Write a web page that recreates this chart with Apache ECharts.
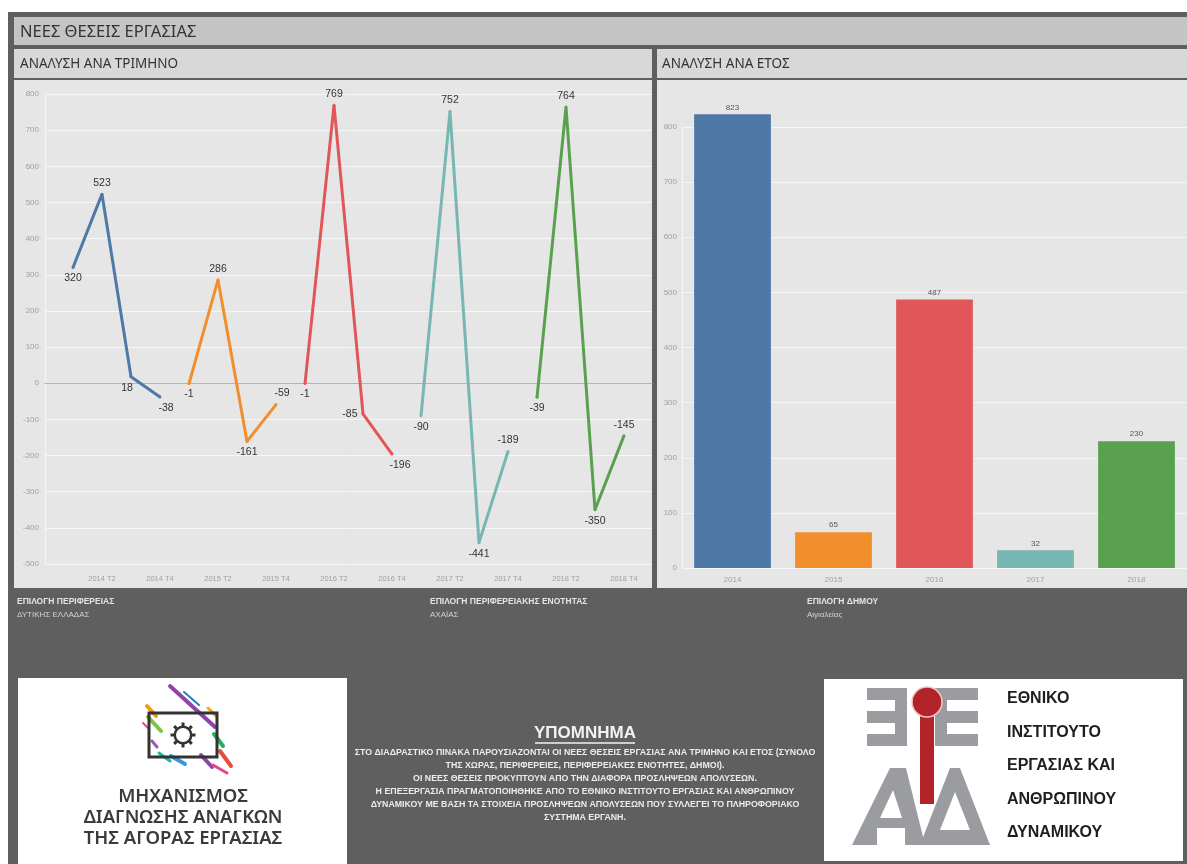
<!DOCTYPE html>
<html><head><meta charset="utf-8">
<script src="https://cdn.jsdelivr.net/npm/echarts@6/dist/echarts.min.js"></script>
<style>html,body{margin:0;padding:0;background:#fff;}#c{width:1187px;height:864px;}</style>
</head><body><div id="c"></div>
<script>
// ---- data ----
const quarters = ['2014 T1','2014 T2','2014 T3','2014 T4','2015 T1','2015 T2','2015 T3','2015 T4',
  '2016 T1','2016 T2','2016 T3','2016 T4','2017 T1','2017 T2','2017 T3','2017 T4',
  '2018 T1','2018 T2','2018 T3','2018 T4'];
const years = ['2014','2015','2016','2017','2018'];
const q2014 = [320, 523, 18, -38];
const q2015 = [-1, 286, -161, -59];
const q2016 = [-1, 769, -85, -196];
const q2017 = [-90, 752, -441, -189];
const q2018 = [-39, 764, -350, -145];
const annual = [823, 65, 487, 32, 230];
const lineAxis = {min: -500, max: 800, interval: 100};
const barAxis = {min: 0, max: 800, interval: 100};

// ---- style ----
const colors = ['#4e79a7', '#f28e2b', '#e15759', '#76b7b2', '#59a14f'];
const labelPlace = [
  ['bottom',0,0],['top',0,0],['bottom',-4,0],['bottom',6,0],
  ['bottom',0,0],['top',0,0],['bottom',0,0],['top',6,0],
  ['bottom',0,0],['top',0,0],['left',0,0],['bottom',8,0],
  ['bottom',0,0],['top',0,0],['bottom',0,0],['top',0,0],
  ['bottom',0,0],['top',0,0],['bottom',0,0],['top',0,0]];
const FF = '"Liberation Sans", Arial, sans-serif';
const NS = '"Noto Sans", sans-serif';
const DARK = '#5f5f5f';

const chart = echarts.init(document.getElementById('c'), null, {width:1187, height:864});

const g = [];
function rect(x,y,w,h,fill,z){ g.push({type:'rect', z: z==null?-10:z, silent:true, shape:{x,y,width:w,height:h}, style:{fill}}); }
function txt(text,x,y,size,fill,opt){ opt=opt||{};
  g.push({type:'text', z: opt.z==null?5:opt.z, silent:true, style:{text, x, y, fill,
    font:(opt.weight||'normal')+' '+size+'px '+(opt.family||FF),
    align:opt.align||'left', textAlign:opt.align||'left',
    verticalAlign:'middle', textVerticalAlign:'middle'}}); }
function line(x1,y1,x2,y2,stroke,w,z,cap){ g.push({type:'line', z:z==null?5:z, silent:true, shape:{x1,y1,x2,y2}, style:{stroke, lineWidth:w, lineCap:cap||'butt'}}); }

// backgrounds
rect(8,12,1179,852,DARK,-20);
rect(14,17,1173,28,'#c4c4c4');
rect(14,49,638,29,'#d8d8d8');
rect(657,49,530,29,'#d8d8d8');
rect(14,80,638,508,'#e6e6e6');
rect(657,80,530,508,'#e6e6e6');
txt('ΝΕΕΣ ΘΕΣΕΙΣ ΕΡΓΑΣΙΑΣ',20,32,16.5,'#333',{family:NS});
txt('ΑΝΑΛΥΣΗ ΑΝΑ ΤΡΙΜΗΝΟ',20,64,13.5,'#333',{family:NS});
txt('ΑΝΑΛΥΣΗ ΑΝΑ ΕΤΟΣ',662,64,13.5,'#333',{family:NS});

// filter texts
txt('ΕΠΙΛΟΓΗ ΠΕΡΙΦΕΡΕΙΑΣ',17,602,8.5,'#e4e4e4',{weight:'bold'});
txt('ΔΥΤΙΚΗΣ ΕΛΛΑΔΑΣ',17,615,8,'#d4d4d4');
txt('ΕΠΙΛΟΓΗ ΠΕΡΙΦΕΡΕΙΑΚΗΣ ΕΝΟΤΗΤΑΣ',430,602,8.5,'#e4e4e4',{weight:'bold'});
txt('ΑΧΑΪΑΣ',430,615,8,'#d4d4d4');
txt('ΕΠΙΛΟΓΗ ΔΗΜΟΥ',807,602,8.5,'#e4e4e4',{weight:'bold'});
txt('Αιγιαλείας',807,615,8,'#d4d4d4');

// legend text
txt('ΥΠΟΜΝΗΜΑ',585,733,17,'#f2f2f2',{weight:'bold',align:'center'});
line(535,743,635,743,'#f2f2f2',1.5);
const legendLines = [
  'ΣΤΟ ΔΙΑΔΡΑΣΤΙΚΟ ΠΙΝΑΚΑ ΠΑΡΟΥΣΙΑΖΟΝΤΑΙ ΟΙ ΝΕΕΣ ΘΕΣΕΙΣ ΕΡΓΑΣΙΑΣ ΑΝΑ ΤΡΙΜΗΝΟ ΚΑΙ ΕΤΟΣ (ΣΥΝΟΛΟ',
  'ΤΗΣ ΧΩΡΑΣ, ΠΕΡΙΦΕΡΕΙΕΣ, ΠΕΡΙΦΕΡΕΙΑΚΕΣ ΕΝΟΤΗΤΕΣ, ΔΗΜΟΙ).',
  'ΟΙ ΝΕΕΣ ΘΕΣΕΙΣ ΠΡΟΚΥΠΤΟΥΝ ΑΠΟ ΤΗΝ ΔΙΑΦΟΡΑ ΠΡΟΣΛΗΨΕΩΝ ΑΠΟΛΥΣΕΩΝ.',
  'Η ΕΠΕΞΕΡΓΑΣΙΑ ΠΡΑΓΜΑΤΟΠΟΙΗΘΗΚΕ ΑΠΟ ΤΟ ΕΘΝΙΚΟ ΙΝΣΤΙΤΟΥΤΟ ΕΡΓΑΣΙΑΣ ΚΑΙ ΑΝΘΡΩΠΙΝΟΥ',
  'ΔΥΝΑΜΙΚΟΥ ΜΕ ΒΑΣΗ ΤΑ ΣΤΟΙΧΕΙΑ ΠΡΟΣΛΗΨΕΩΝ ΑΠΟΛΥΣΕΩΝ ΠΟΥ ΣΥΛΛΕΓΕΙ ΤΟ ΠΛΗΡΟΦΟΡΙΑΚΟ',
  'ΣΥΣΤΗΜΑ ΕΡΓΑΝΗ.'];
legendLines.forEach((s,i)=>txt(s,585,753+i*13,8.8,'#ececec',{weight:'bold',align:'center'}));

// left logo
rect(18,678,329,186,'#ffffff',-5);
const stripes = [
  [170,686,215,727,'#8e44ad',4],[147,706,156,716,'#f39c12',4],[148,717,161,731,'#7dc242',4],
  [152,741,157,747,'#9b59b6',3],[208,708,216,716,'#f5a623',3],[214,734,223,746,'#27ae60',4],
  [171,756,185,764,'#3498db',4],[159,753,170,761,'#1abc9c',3],[201,755,212,767,'#8e44ad',4],
  [220,751,231,766,'#e74c3c',4],[213,765,227,773,'#e84393',3],[184,692,199,705,'#2980b9',2],
  [143,723,149,729,'#e84393',2]];
stripes.forEach(s=>line(s[0],s[1],s[2],s[3],s[4],s[5],0,'round'));
g.push({type:'rect', z:1, silent:true, shape:{x:149,y:713,width:68,height:44}, style:{fill:'none', stroke:'#333', lineWidth:3}});
g.push({type:'ring', z:1, silent:true, shape:{cx:183,cy:735,r:9.5,r0:7}, style:{fill:'#333'}});
for(let k=0;k<8;k++){ const a=k*Math.PI/4; line(183+9*Math.cos(a),735+9*Math.sin(a),183+12.5*Math.cos(a),735+12.5*Math.sin(a),'#333',3,1); }
['ΜΗΧΑΝΙΣΜΟΣ','ΔΙΑΓΝΩΣΗΣ ΑΝΑΓΚΩΝ','ΤΗΣ ΑΓΟΡΑΣ ΕΡΓΑΣΙΑΣ'].forEach((s,i)=>
  txt(s,183,797+i*21,18.5,'#3a3a3a',{align:'center',family:NS,weight:'600'}));

// right logo
rect(824,679,359,182,'#ffffff',-5);
const GR = '#9a9ca0';
[[867,688],[867,711],[867,734]].forEach(p=>g.push({type:'rect',z:1,silent:true,shape:{x:p[0],y:p[1],width:40,height:12},style:{fill:GR}}));
g.push({type:'rect',z:1,silent:true,shape:{x:895,y:688,width:12,height:58},style:{fill:GR}});
[[935,688],[935,711],[935,734]].forEach(p=>g.push({type:'rect',z:1,silent:true,shape:{x:p[0],y:p[1],width:43,height:12},style:{fill:GR}}));
g.push({type:'rect',z:1,silent:true,shape:{x:935,y:688,width:12,height:58},style:{fill:GR}});
g.push({type:'polygon',z:1,silent:true,shape:{points:[[852,845],[890,768],[906,768],[925,845]]},style:{fill:GR}});
g.push({type:'polygon',z:2,silent:true,shape:{points:[[880,818],[893,790],[902,818]]},style:{fill:'#fff'}});
g.push({type:'rect',z:2,silent:true,shape:{x:877,y:828,width:28,height:17},style:{fill:'#fff'}});
g.push({type:'polygon',z:1,silent:true,shape:{points:[[920,845],[950,768],[960,768],[990,845]]},style:{fill:GR}});
g.push({type:'polygon',z:2,silent:true,shape:{points:[[940,830],[955,792],[970,830]]},style:{fill:'#fff'}});
g.push({type:'rect',z:3,silent:true,shape:{x:920,y:716,width:14,height:88},style:{fill:'#b2242a'}});
g.push({type:'circle',z:3,silent:true,shape:{cx:927,cy:702,r:15},style:{fill:'#b2242a',stroke:'#f2c4c4',lineWidth:1.5}});
['ΕΘΝΙΚΟ','ΙΝΣΤΙΤΟΥΤΟ','ΕΡΓΑΣΙΑΣ ΚΑΙ','ΑΝΘΡΩΠΙΝΟΥ','ΔΥΝΑΜΙΚΟΥ'].forEach((s,i)=>
  txt(s,1007,699+i*33.5,16,'#1e1e1e',{weight:'bold'}));

// ---- series ----
const quarterly = [q2014,q2015,q2016,q2017,q2018];
const series = quarterly.map((vals, yi) => ({
  type:'line', xAxisIndex:1, yAxisIndex:1, z:5,
  symbol:'circle', symbolSize:3, connectNulls:false,
  lineStyle:{width:3, color:colors[yi]}, itemStyle:{color:colors[yi]},
  label:{show:true, color:'#333', fontSize:10.5, fontFamily:FF, distance:4},
  emphasis:{disabled:true},
  data: quarters.map((q,j) => {
    if (Math.floor(j/4) !== yi) return '-';
    const p = labelPlace[j];
    return {value: vals[j%4], label:{position:p[0], offset:[p[1],p[2]]}};
  })
}));
series.push({
  type:'bar', xAxisIndex:2, yAxisIndex:2, barWidth:'76%', clip:false,
  label:{show:true, position:'top', color:'#555', fontSize:8, fontFamily:FF, distance:3},
  emphasis:{disabled:true},
  data: annual.map((v,i)=>({value:v, itemStyle:{color:colors[i]}}))
});

const axLabel = {color:'#a0a0a0', fontSize:8, fontFamily:FF};
chart.setOption({
  animation:false,
  backgroundColor:'transparent',
  graphic:{elements:g},
  grid:[
    {left:45, top:94, width:607, height:470},
    {left:58.5, top:94, width:580, height:470},
    {left:682, top:127, width:505, height:441}
  ],
  xAxis:[
    {gridIndex:0, type:'category', data:[''], axisLabel:{show:false}, axisTick:{show:false},
     axisLine:{show:true, onZero:true, lineStyle:{color:'#b4b4b4', width:1}}, splitLine:{show:false}, z:3},
    {gridIndex:1, type:'category', data:quarters, axisLine:{show:false, onZero:false}, axisTick:{show:false},
     axisLabel:Object.assign({}, axLabel, {fontSize:7.5, margin:11, interval:(i)=>i%2===1})},
    {gridIndex:2, type:'category', data:years, axisLine:{show:false}, axisTick:{show:false},
     axisLabel:Object.assign({}, axLabel, {margin:8})}
  ],
  yAxis:[
    Object.assign({gridIndex:0, type:'value'}, lineAxis, {
      axisLabel:Object.assign({}, axLabel, {margin:6}),
      axisLine:{show:true, lineStyle:{color:'#f6f6f6'}}, axisTick:{show:false},
      splitLine:{lineStyle:{color:'#f6f6f6', width:1}}}),
    Object.assign({gridIndex:1, type:'value', show:false}, lineAxis),
    Object.assign({gridIndex:2, type:'value'}, barAxis, {
      axisLabel:Object.assign({}, axLabel, {margin:5}),
      axisLine:{show:true, lineStyle:{color:'#f6f6f6'}}, axisTick:{show:false},
      splitLine:{lineStyle:{color:'#f6f6f6', width:1}}})
  ],
  series
});
</script></body></html>
